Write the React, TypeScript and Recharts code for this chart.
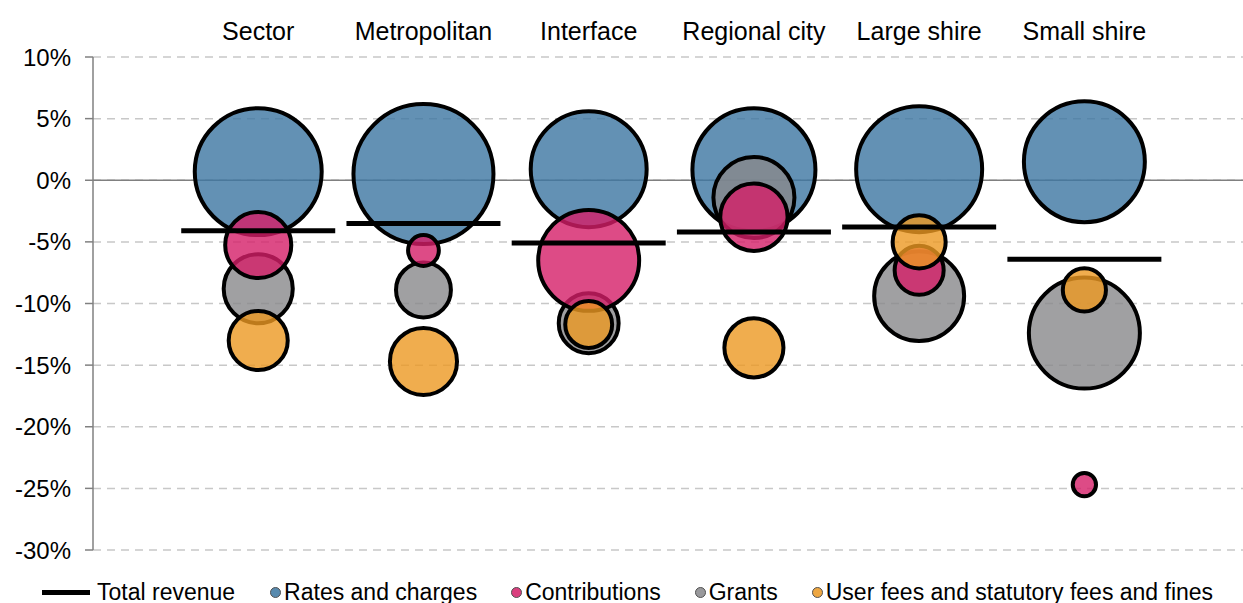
import {
  ReferenceLine,
  Scatter,
  ScatterChart,
  CartesianGrid,
  XAxis,
  YAxis,
  ZAxis,
} from "recharts";

const categories = ["Sector", "Metropolitan", "Interface", "Regional city", "Large shire", "Small shire"];

// change in revenue (%), per category
const totalRevenue = [-4.1, -3.5, -5.1, -4.2, -3.8, -6.4];
const ratesChange = [0.7, 0.5, 0.9, 0.85, 0.9, 1.5];
const contributionsChange = [-5.25, -5.7, -6.5, -3.0, -7.3, -24.7];
const grantsChange = [-8.8, -8.9, -11.6, -1.4, -9.4, -12.4];
const feesChange = [-13.0, -14.7, -11.7, -13.6, -5.0, -8.9];

// share of revenue (%), drives bubble area
const ratesShare = [47.6, 57.9, 39.7, 44.7, 46.9, 43.2];
const contributionsShare = [12.9, 2.8, 30.1, 13.4, 7.1, 1.6];
const grantsShare = [14.1, 8.9, 10.6, 19.4, 23.9, 36.4];
const feesShare = [10.3, 13.3, 6.5, 10.3, 8.3, 5.5];

const yTicks = [-30, -25, -20, -15, -10, -5, 0, 5, 10];

const toPoints = (change: number[], share: number[]) =>
  change.map((y, i) => ({ x: i + 1, y, z: share[i], name: categories[i] }));

const series = [
  { name: "Rates and charges", color: "#3c76a1", data: toPoints(ratesChange, ratesShare) },
  { name: "Grants", color: "#88888b", data: toPoints(grantsChange, grantsShare) },
  { name: "Contributions", color: "#d41e68", data: toPoints(contributionsChange, contributionsShare) },
  { name: "User fees and statutory fees and fines", color: "#ec9822", data: toPoints(feesChange, feesShare) },
];

const totalPoints = totalRevenue.map((y, i) => ({ x: i + 1, y, name: categories[i] }));

const legendOrder = ["Rates and charges", "Contributions", "Grants", "User fees and statutory fees and fines"];

const FONT = "Arial, 'Liberation Sans', sans-serif";

function CategoryTick(props: any) {
  const { x, y, payload } = props;
  return (
    <text x={x} y={y - 9} textAnchor="middle" fontSize={25} fontFamily={FONT} fill="#000">
      {categories[payload.value - 1]}
    </text>
  );
}

// horizontal bar for total revenue
function TotalBar(props: any) {
  const { cx, cy } = props;
  if (cx == null || cy == null) return null;
  return <line x1={cx - 77} x2={cx + 77} y1={cy} y2={cy} stroke="#000" strokeWidth={5} />;
}

export default function App() {
  return (
    <div style={{ position: "absolute", left: 0, top: 0, width: 1243, height: 603, background: "#fff" }}>
      <ScatterChart width={1243} height={603} margin={{ top: 0, right: 0, bottom: 53, left: 0 }}>
        <CartesianGrid vertical={false} stroke="#c8c8c8" strokeDasharray="8 6" strokeWidth={1.5} />
        <XAxis
          type="number"
          dataKey="x"
          orientation="top"
          height={57}
          domain={[0, 6.96]}
          ticks={[1, 2, 3, 4, 5, 6]}
          axisLine={false}
          tickLine={false}
          tick={<CategoryTick />}
          allowDataOverflow
        />
        <YAxis
          type="number"
          dataKey="y"
          width={93}
          domain={[-30, 10]}
          ticks={yTicks}
          tickFormatter={(v: number) => `${v}%`}
          tick={{ fontSize: 24, fontFamily: FONT, fill: "#000" }}
          tickSize={8}
          tickMargin={14}
          axisLine={{ stroke: "#808080", strokeWidth: 1.5 }}
          tickLine={{ stroke: "#808080", strokeWidth: 1.5 }}
          allowDataOverflow
        />
        <ZAxis type="number" dataKey="z" domain={[0, 60]} range={[0, 15955]} />
        <ReferenceLine y={0} stroke="#808080" strokeWidth={1.5} />
        {series.map((s) => (
          <Scatter
            key={s.name}
            name={s.name}
            data={s.data}
            fill={s.color}
            fillOpacity={0.8}
            stroke="#000"
            strokeWidth={4}
            isAnimationActive={false}
          />
        ))}
        <Scatter name="Total revenue" data={totalPoints} shape={<TotalBar />} isAnimationActive={false} />
      </ScatterChart>
      <div
        style={{
          position: "absolute",
          left: 42,
          top: 579,
          display: "flex",
          alignItems: "center",
          fontFamily: FONT,
          fontSize: 23,
          color: "#000",
          whiteSpace: "nowrap",
          lineHeight: "26px",
        }}
      >
        <span style={{ display: "inline-block", width: 48, height: 5, background: "#000", marginRight: 7 }} />
        <span style={{ marginRight: 35 }}>Total revenue</span>
        {legendOrder.map((name) => {
          const s = series.find((d) => d.name === name)!;
          return (
            <span key={name} style={{ display: "inline-flex", alignItems: "center", marginRight: 34 }}>
              <span
                style={{
                  display: "inline-block",
                  width: 9,
                  height: 9,
                  borderRadius: "50%",
                  background: s.color,
                  opacity: 0.85,
                  border: "1.5px solid #333",
                  marginRight: 3,
                }}
              />
              {name}
            </span>
          );
        })}
      </div>
    </div>
  );
}
